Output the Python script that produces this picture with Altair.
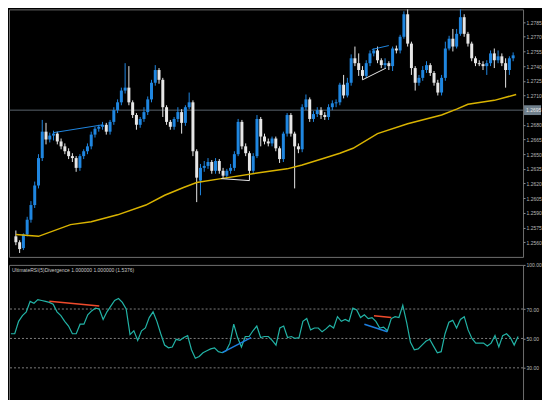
import altair as alt
import pandas as pd

# ---------------- data ----------------
open_ = [1.2566,1.2560,1.2554,1.2568,1.2583,1.2598,1.2618,1.2646,1.2673,1.2665,
         1.2669,1.2671,1.2663,1.2658,1.2653,1.2648,1.2646,1.2636,1.2648,1.2653,
         1.2658,1.2670,1.2676,1.2678,1.2680,1.2673,1.2683,1.2695,1.2703,1.2715,
         1.2718,1.2703,1.2690,1.2680,1.2686,1.2693,1.2706,1.2723,1.2736,1.2726,
         1.2698,1.2683,1.2678,1.2686,1.2693,1.2682,1.2698,1.2703,1.2653,1.2623,
         1.2636,1.2638,1.2642,1.2633,1.2643,1.2633,1.2628,1.2633,1.2636,1.2650,
         1.2683,1.2658,1.2651,1.2633,1.2648,1.2686,1.2668,1.2663,1.2661,1.2666,
         1.2656,1.2645,1.2671,1.2690,1.2671,1.2658,1.2655,1.2698,1.2706,1.2686,
         1.2691,1.2695,1.2690,1.2688,1.2698,1.2702,1.2703,1.2721,1.2710,1.2723,
         1.2748,1.2743,1.2736,1.2730,1.2743,1.2753,1.2756,1.2746,1.2741,1.2743,
         1.2740,1.2758,1.2756,1.2770,1.2793,1.2763,1.2738,1.2723,1.2728,1.2736,
         1.2741,1.2733,1.2723,1.2713,1.2728,1.2758,1.2768,1.2760,1.2773,1.2790,
         1.2773,1.2763,1.2748,1.2743,1.2742,1.2740,1.2743,1.2753,1.2746,1.2750,
         1.2743,1.2736,1.2748]
close = [1.2560,1.2553,1.2568,1.2583,1.2598,1.2618,1.2646,1.2673,1.2665,1.2669,
         1.2671,1.2663,1.2658,1.2653,1.2648,1.2646,1.2636,1.2648,1.2653,1.2658,
         1.2670,1.2676,1.2678,1.2680,1.2673,1.2683,1.2695,1.2703,1.2715,1.2718,
         1.2703,1.2690,1.2680,1.2686,1.2693,1.2706,1.2723,1.2736,1.2726,1.2698,
         1.2683,1.2678,1.2686,1.2693,1.2682,1.2698,1.2703,1.2653,1.2626,1.2636,
         1.2638,1.2642,1.2633,1.2643,1.2633,1.2628,1.2633,1.2636,1.2650,1.2683,
         1.2658,1.2651,1.2633,1.2648,1.2686,1.2668,1.2663,1.2661,1.2666,1.2656,
         1.2645,1.2671,1.2690,1.2671,1.2658,1.2655,1.2698,1.2706,1.2686,1.2691,
         1.2695,1.2690,1.2688,1.2698,1.2702,1.2703,1.2721,1.2710,1.2723,1.2748,
         1.2743,1.2736,1.2730,1.2743,1.2753,1.2756,1.2746,1.2741,1.2743,1.2740,
         1.2758,1.2756,1.2770,1.2793,1.2763,1.2738,1.2723,1.2728,1.2736,1.2741,
         1.2733,1.2723,1.2713,1.2728,1.2758,1.2768,1.2760,1.2773,1.2790,1.2773,
         1.2763,1.2748,1.2743,1.2742,1.2740,1.2743,1.2753,1.2746,1.2750,1.2743,
         1.2736,1.2748,1.2751]
high = [1.2572,1.2562,1.2569,1.2586,1.2602,1.2622,1.2650,1.2685,1.2682,1.2672,
        1.2674,1.2673,1.2666,1.2661,1.2656,1.2651,1.2648,1.2650,1.2655,1.2661,
        1.2673,1.2678,1.2680,1.2683,1.2682,1.2685,1.2698,1.2706,1.2718,1.2743,
        1.2740,1.2705,1.2692,1.2688,1.2698,1.2709,1.2726,1.2741,1.2738,1.2728,
        1.2700,1.2685,1.2688,1.2698,1.2696,1.2700,1.2713,1.2705,1.2655,1.2640,
        1.2643,1.2646,1.2644,1.2646,1.2645,1.2636,1.2635,1.2640,1.2653,1.2686,
        1.2685,1.2661,1.2653,1.2651,1.2690,1.2688,1.2671,1.2666,1.2668,1.2668,
        1.2658,1.2673,1.2692,1.2692,1.2673,1.2661,1.2701,1.2711,1.2708,1.2694,
        1.2698,1.2698,1.2693,1.2701,1.2705,1.2706,1.2723,1.2731,1.2728,1.2752,
        1.2760,1.2753,1.2740,1.2746,1.2756,1.2758,1.2760,1.2748,1.2748,1.2745,
        1.2760,1.2761,1.2772,1.2796,1.2798,1.2765,1.2740,1.2731,1.2740,1.2745,
        1.2743,1.2735,1.2726,1.2731,1.2765,1.2771,1.2778,1.2778,1.2798,1.2793,
        1.2775,1.2765,1.2750,1.2746,1.2745,1.2746,1.2756,1.2758,1.2756,1.2753,
        1.2748,1.2750,1.2754]
low = [1.2557,1.2549,1.2552,1.2566,1.2580,1.2595,1.2615,1.2643,1.2660,1.2662,
       1.2664,1.2660,1.2655,1.2650,1.2645,1.2642,1.2632,1.2633,1.2645,1.2650,
       1.2655,1.2667,1.2673,1.2675,1.2670,1.2670,1.2680,1.2692,1.2700,1.2712,
       1.2700,1.2687,1.2675,1.2677,1.2683,1.2690,1.2703,1.2720,1.2722,1.2688,
       1.2680,1.2675,1.2675,1.2683,1.2671,1.2679,1.2696,1.2648,1.2601,1.2608,
       1.2632,1.2635,1.2630,1.2630,1.2630,1.2625,1.2625,1.2630,1.2633,1.2648,
       1.2655,1.2648,1.2623,1.2630,1.2646,1.2658,1.2660,1.2658,1.2658,1.2653,
       1.2641,1.2642,1.2668,1.2668,1.2615,1.2651,1.2652,1.2695,1.2683,1.2683,
       1.2688,1.2686,1.2685,1.2685,1.2695,1.2698,1.2700,1.2707,1.2708,1.2720,
       1.2740,1.2730,1.2726,1.2728,1.2740,1.2750,1.2743,1.2738,1.2738,1.2736,
       1.2735,1.2753,1.2753,1.2768,1.2760,1.2731,1.2715,1.2720,1.2725,1.2733,
       1.2730,1.2720,1.2710,1.2710,1.2725,1.2756,1.2755,1.2758,1.2771,1.2770,
       1.2760,1.2745,1.2740,1.2740,1.2736,1.2731,1.2740,1.2738,1.2743,1.2740,
       1.2718,1.2731,1.2745]
osc = [53.2,53.2,61.6,65.5,68.1,75.2,73.9,76.4,75.8,75.2,
       74.5,73.2,68.1,65.5,61.6,58.4,53.2,53.2,59.7,59.7,
       66.1,68.7,70.6,70.0,62.9,68.1,72.0,75.8,77.1,74.5,
       70.0,52.6,55.2,48.7,55.2,57.1,64.2,68.1,61.6,53.2,
       45.5,43.6,44.2,49.4,48.7,50.6,51.9,42.3,36.5,37.7,
       40.3,41.6,42.9,43.6,41.0,40.3,41.6,46.8,59.7,50.6,
       44.2,51.3,51.3,55.2,58.4,50.6,51.3,51.3,48.7,45.5,
       57.1,58.4,50.6,51.3,50.0,50.6,61.6,63.5,55.8,57.1,
       57.1,54.5,56.5,59.0,57.1,64.8,61.6,62.9,61.6,70.6,
       69.4,64.2,66.1,63.5,64.2,61.6,57.1,57.7,55.2,63.5,
       64.8,64.2,72.6,61.0,47.4,42.3,42.9,45.5,48.1,49.4,
       44.8,40.3,41.0,53.2,61.0,62.3,57.1,62.9,64.8,55.8,
       50.0,46.8,46.8,46.8,44.8,46.8,51.9,44.2,51.9,53.2,
       50.6,45.5,51.3]

ma_idx = [0, 6, 14.5, 20, 27, 34.5, 39.5, 44.5, 48, 54.5, 64.5, 72, 76, 82, 86,
          89.5, 96, 104, 113, 117, 120, 127, 132.8]
ma_val = [1.2568, 1.2566, 1.2578, 1.2581, 1.2588, 1.2598, 1.2608, 1.2616, 1.2621,
          1.2625, 1.2631, 1.2635, 1.2639, 1.2646, 1.2651, 1.2656, 1.2671, 1.2681,
          1.2690, 1.2696, 1.2701, 1.2705, 1.2711]

price_ticks = [1.2785, 1.2770, 1.2755, 1.2740, 1.2725, 1.2710, 1.2680, 1.2665,
               1.2650, 1.2635, 1.2620, 1.2605, 1.2590, 1.2575, 1.2560]
hline_price = 1.2695
osc_levels = [70, 50, 30]
osc_ticks = [100, 70, 50, 30]
osc_title = "UltimateRSI(5)Divergence 1.000000 1.000000 (1.5376)"

# divergence segments
main_seg = ["r1", "r1", "r2", "r2", "b1", "b1", "b2", "b2"]
main_x = [10, 23, 94.5, 99, 54.5, 62, 92, 98.25]
main_y = [1.2672, 1.2680, 1.2757, 1.2761, 1.2625, 1.2623, 1.2726, 1.2738]
main_col = ["red", "red", "red", "red", "blue", "blue", "blue", "blue"]
osc_seg = ["r1", "r1", "r2", "r2", "b1", "b1", "b2", "b2"]
osc_x = [10, 23, 94.5, 99, 55, 62.5, 92, 98]
osc_y = [75.2, 72.0, 65.5, 64.2, 40.3, 50.6, 59.7, 54.5]
osc_col = ["red", "red", "red", "red", "blue", "blue", "blue", "blue"]

# ---------------- styling ----------------
W, H1, H2 = 515, 248, 140
BULL, BEAR = "#1f86e0", "#e6e6e6"
AXC, LBL = "#8a8a8a", "#b8b8b8"
FONT = "Liberation Sans"
N = len(close)

df = pd.DataFrame({"i": list(range(N)), "o": open_, "h": high, "l": low, "c": close})
df["dir"] = ["bull" if c >= o else "bear" for o, c in zip(open_, close)]
ma_df = pd.DataFrame({"i": ma_idx, "v": ma_val})
osc_df = pd.DataFrame({"i": list(range(N)), "v": osc})
lvl_df = pd.DataFrame({"lvl": osc_levels})
mdiv = pd.DataFrame({"seg": main_seg, "i": main_x, "v": main_y, "col": main_col})
odiv = pd.DataFrame({"seg": osc_seg, "i": osc_x, "v": osc_y, "col": osc_col})

xs = alt.Scale(domain=[-0.5, 133.3], nice=False, zero=False)
ys = alt.Scale(domain=[1.2545, 1.2798], nice=False, zero=False)
os_ = alt.Scale(domain=[5, 100], nice=False, zero=False)
dcol = alt.Color("dir:N", scale=alt.Scale(domain=["bull", "bear"], range=[BULL, BEAR]), legend=None)
divcol = alt.Color("col:N", scale=alt.Scale(domain=["red", "blue"], range=["#f04b2c", "#1e7fe0"]), legend=None)


def X():
    return alt.X("i:Q", scale=xs, axis=None)


def make_axis(vals, fmt):
    return alt.Axis(orient="right", values=vals, format=fmt, title=None,
                    labelColor=LBL, labelFontSize=5, labelFont=FONT, labelPadding=1,
                    tickSize=2, tickColor=AXC, domain=False, grid=False,
                    labelOverlap=False, labelBound=False, labelFlush=False,
                    minExtent=0)


price_axis = make_axis(price_ticks, ".4f")
osc_axis = make_axis(osc_ticks, ".2f")


def YP(field):
    return alt.Y(field, scale=ys, axis=price_axis)


def YO(field):
    return alt.Y(field, scale=os_, axis=osc_axis)


base = alt.Chart(df)
hline = alt.Chart(pd.DataFrame({"p": [hline_price]})).mark_rule(color="#59626c", strokeWidth=1).encode(
    y=YP("p:Q"))
wick = base.mark_rule(strokeWidth=1).encode(x=X(), y=YP("l:Q"), y2="h:Q", color=dcol)
body = base.mark_bar(size=3).encode(x=X(), y=YP("o:Q"), y2="c:Q", color=dcol)
ma = alt.Chart(ma_df).mark_line(color="#d9b300", strokeWidth=1.5).encode(x=X(), y=YP("v:Q"))
mlines = alt.Chart(mdiv).mark_line(strokeWidth=1).encode(x=X(), y=YP("v:Q"), detail="seg:N", color=divcol)
hl_box = alt.Chart(pd.DataFrame({"a": [hline_price + 0.0005], "b": [hline_price - 0.0005]})).mark_rect(
    color="#6f7f8c").encode(x=alt.value(W + 1), x2=alt.value(W + 18), y=YP("a:Q"), y2="b:Q")
hl_txt = alt.Chart(pd.DataFrame({"p": [hline_price], "t": [f"{hline_price:.4f}"]})).mark_text(
    align="left", baseline="middle", fontSize=5, font=FONT, color="#e8e8e8").encode(
    x=alt.value(W + 3), y=YP("p:Q"), text="t:N")

main = alt.layer(hline, wick, body, ma, mlines, hl_box, hl_txt).properties(width=W, height=H1)

lv = alt.Chart(lvl_df).mark_rule(color="#7d7d7d", strokeWidth=1, strokeDash=[2, 2]).encode(y=YO("lvl:Q"))
oline = alt.Chart(osc_df).mark_line(color="#22b3a6", strokeWidth=1.2).encode(x=X(), y=YO("v:Q"))
olines = alt.Chart(odiv).mark_line(strokeWidth=1.5).encode(x=X(), y=YO("v:Q"), detail="seg:N", color=divcol)
otitle = alt.Chart(pd.DataFrame({"t": [osc_title]})).mark_text(
    align="left", baseline="top", fontSize=5, font=FONT, color="#c8c8c8").encode(
    x=alt.value(3), y=alt.value(3), text="t:N")
oscp = alt.layer(lv, oline, olines, otitle).properties(width=W, height=H2)

chart = alt.vconcat(main, oscp, spacing=4).resolve_scale(color="independent").properties(
    padding={"left": 0, "top": 0, "right": 0, "bottom": 0}
).configure(background="black").configure_view(stroke="#6e6e6e", strokeWidth=1)

chart.save("out.html", embed_options={"renderer": "svg", "actions": False})
